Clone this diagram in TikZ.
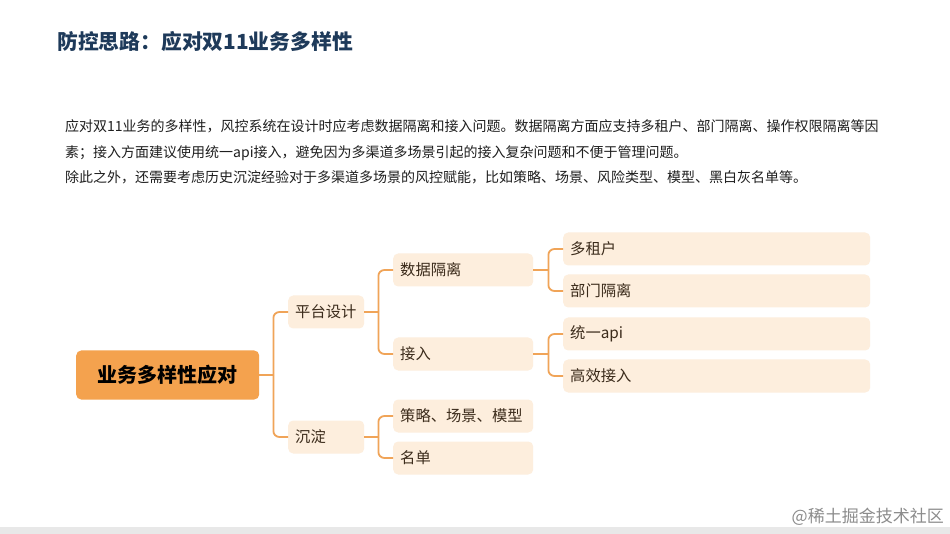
\documentclass[tikz,border=0pt]{standalone}
\usepackage{fontspec}
\setmainfont{Noto Sans CJK SC}
\usetikzlibrary{positioning}
\definecolor{rootorange}{HTML}{F4A24E}
\definecolor{branchline}{HTML}{F0A458}
\definecolor{leaffill}{HTML}{FDEEDD}
\definecolor{titleblue}{HTML}{1E3A5A}
\definecolor{leaftext}{HTML}{3B2B1B}

\tikzset{
  rootbox/.style={fill=rootorange, rounded corners=5pt, anchor=west,
    minimum width=183pt, minimum height=49pt, inner sep=0pt,
    font=\fontsize{20}{24}\selectfont\bfseries, text=black},
  topic/.style={fill=leaffill, rounded corners=5pt, anchor=west,
    minimum height=33pt, inner xsep=7pt, inner ysep=0pt, align=left,
    font=\fontsize{15.3}{18}\selectfont, text=leaftext},
  branch/.style={draw=branchline, line width=1.8pt, rounded corners=6pt}
}

\begin{document}
\begin{tikzpicture}[x=1pt, y=-1pt]
  \useasboundingbox (0,0) rectangle (950,534);
  \fill[white] (0,0) rectangle (950,534);

  % Title and text
  \node[anchor=west, inner sep=0pt, text=titleblue,
    font=\fontsize{20.8}{24}\selectfont\bfseries] (title) at (57,42)
    {防控思路：应对双11业务多样性};
  \node[anchor=west, inner sep=0pt, align=left, text=black!88,
    font=\fontsize{14}{25.5}\selectfont] (intro) at (65,152)
    {应对双11业务的多样性，风控系统在设计时应考虑数据隔离和接入问题。数据隔离方面应支持多租户、部门隔离、操作权限隔离等因\\
     素；接入方面建议使用统一api接入，避免因为多渠道多场景引起的接入复杂问题和不便于管理问题。\\
     除此之外，还需要考虑历史沉淀经验对于多渠道多场景的风控赋能，比如策略、场景、风险类型、模型、黑白灰名单等。};

  % Root
  \node[rootbox] (root) at (76,375) {业务多样性应对};

  % First level
  \node[topic, text width=62pt] (plat) at (288,312) {平台设计};
  \node[topic, text width=62pt] (chen) at (288,437) {沉淀};

  % Second level
  \node[topic, text width=126pt] (iso) at (393,270) {数据隔离};
  \node[topic, text width=126pt] (acc) at (393,354) {接入};
  \node[topic, text width=126pt] (strat) at (393,416) {策略、场景、模型};
  \node[topic, text width=126pt] (list) at (393,458) {名单};

  % Third level
  \node[topic, text width=293pt] (tenant) at (563,249) {多租户};
  \node[topic, text width=293pt] (dept) at (563,291) {部门隔离};
  \node[topic, text width=293pt] (api) at (563,334) {统一api};
  \node[topic, text width=293pt] (fast) at (563,376) {高效接入};

  % Branches
  \coordinate (j0) at ([xshift=14pt]root.east);
  \draw[branch] (root.east) -- (j0);
  \draw[branch] (j0) |- (plat.west);
  \draw[branch] (j0) |- (chen.west);

  \coordinate (j1) at ([xshift=14pt]plat.east);
  \draw[branch] (plat.east) -- (j1);
  \draw[branch] (j1) |- (iso.west);
  \draw[branch] (j1) |- (acc.west);

  \coordinate (j2) at ([xshift=14pt]chen.east);
  \draw[branch] (chen.east) -- (j2);
  \draw[branch] (j2) |- (strat.west);
  \draw[branch] (j2) |- (list.west);

  \coordinate (j3) at ([xshift=15pt]iso.east);
  \draw[branch] (iso.east) -- (j3);
  \draw[branch] (j3) |- (tenant.west);
  \draw[branch] (j3) |- (dept.west);

  \coordinate (j4) at ([xshift=15pt]acc.east);
  \draw[branch] (acc.east) -- (j4);
  \draw[branch] (j4) |- (api.west);
  \draw[branch] (j4) |- (fast.west);

  % Footer
  \fill[black!9] (0,527) rectangle (950,534);
  \node[anchor=east, inner sep=0pt, text=black!45,
    font=\fontsize{17}{20}\selectfont] (mark) at (944,517) {@稀土掘金技术社区};
\end{tikzpicture}
\end{document}
